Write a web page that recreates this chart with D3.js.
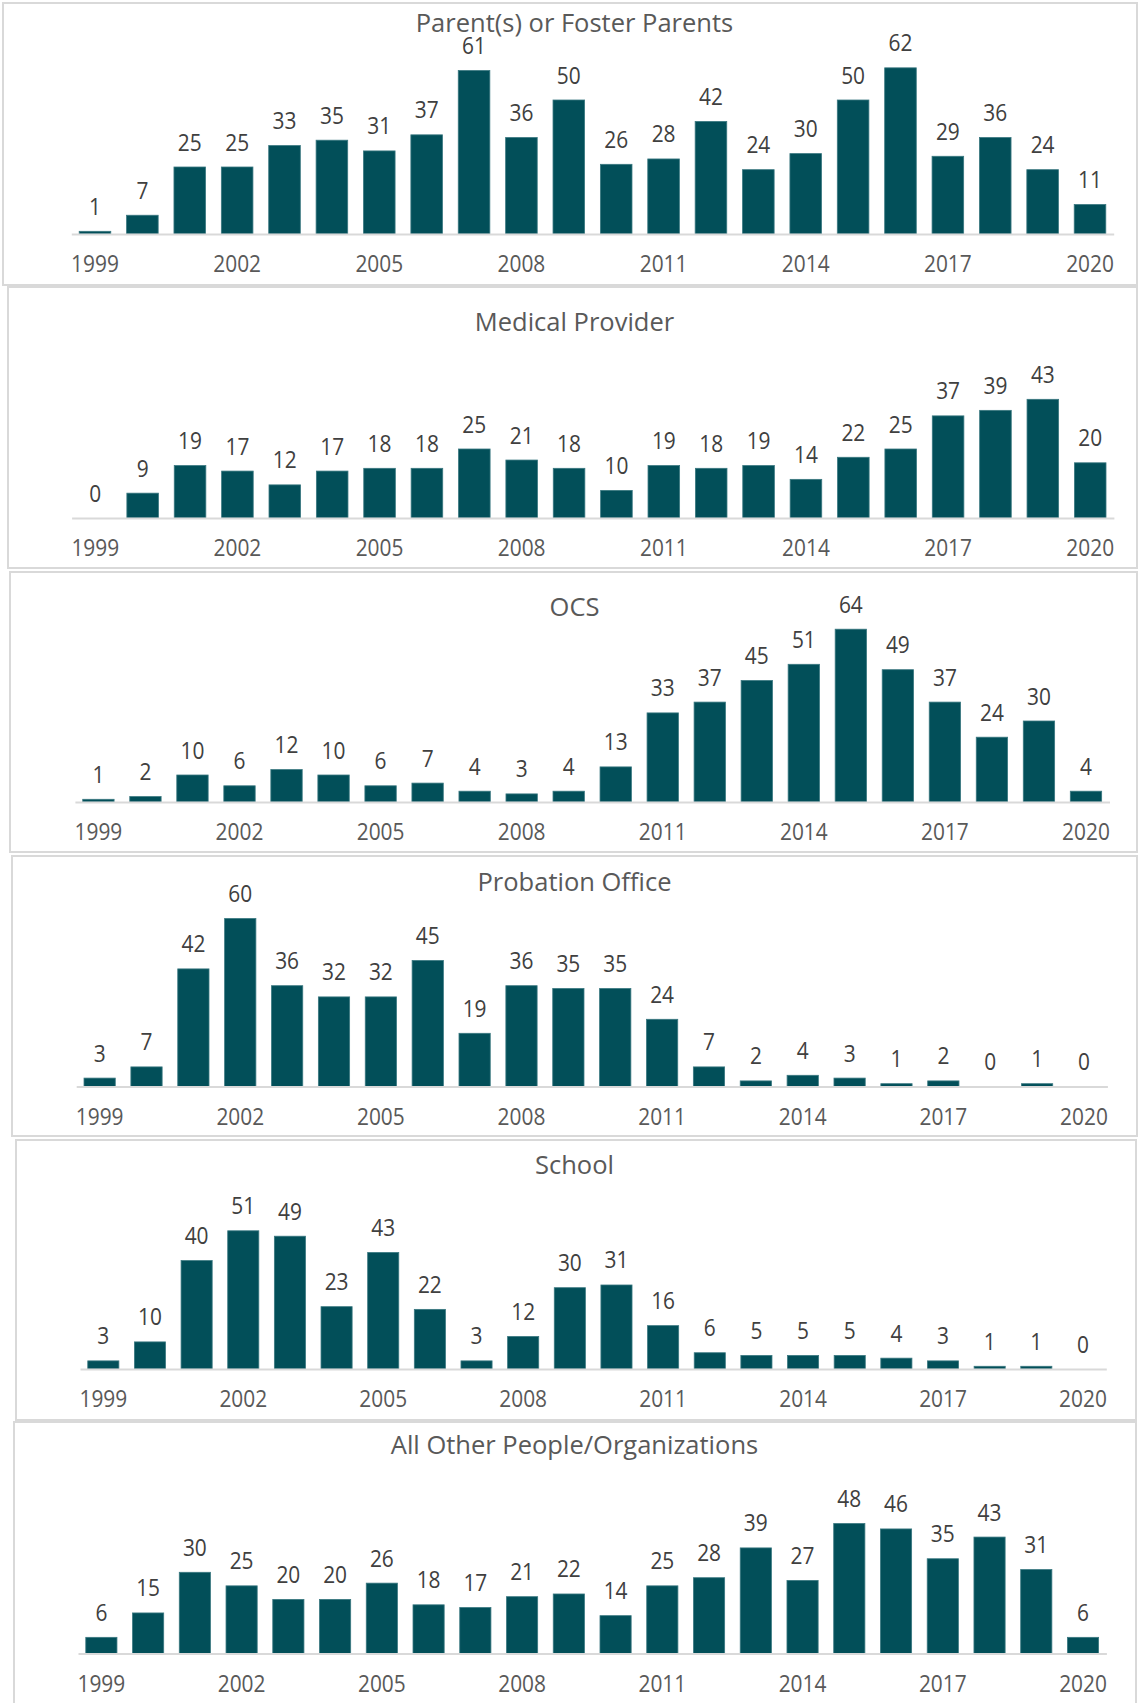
<!DOCTYPE html>
<html lang="en">
<head>
    <meta charset="UTF-8">
    <script src="https://d3js.org/d3.v7.min.js"></script>
    <title>Referral sources by year</title>
    <style>
        body {
            margin: 0;
            background: #fff;
            font-family: "Open Sans", sans-serif;
        }
        .title { fill: #595959; font-size: 25.5px; }
        .val { fill: #404040; font-size: 24px; }
        .tick text { fill: #595959; font-size: 24px; font-family: "Open Sans", sans-serif; }
        .domain { stroke: #d9d9d9; stroke-width: 2px; }
    </style>
</head>
<body>
<div id="chart"></div>
<script>
    const years = d3.range(1999, 2021);
    const tickYears = [1999, 2002, 2005, 2008, 2011, 2014, 2017, 2020];

    const titles = [
        "Parent(s) or Foster Parents",
        "Medical Provider",
        "OCS",
        "Probation Office",
        "School",
        "All Other People/Organizations"
    ];

    const parents   = [1, 7, 25, 25, 33, 35, 31, 37, 61, 36, 50, 26, 28, 42, 24, 30, 50, 62, 29, 36, 24, 11];
    const medical   = [0, 9, 19, 17, 12, 17, 18, 18, 25, 21, 18, 10, 19, 18, 19, 14, 22, 25, 37, 39, 43, 20];
    const ocs       = [1, 2, 10, 6, 12, 10, 6, 7, 4, 3, 4, 13, 33, 37, 45, 51, 64, 49, 37, 24, 30, 4];
    const probation = [3, 7, 42, 60, 36, 32, 32, 45, 19, 36, 35, 35, 24, 7, 2, 4, 3, 1, 2, 0, 1, 0];
    const school    = [3, 10, 40, 51, 49, 23, 43, 22, 3, 12, 30, 31, 16, 6, 5, 5, 5, 4, 3, 1, 1, 0];
    const others    = [6, 15, 30, 25, 20, 20, 26, 18, 17, 21, 22, 14, 25, 28, 39, 27, 48, 46, 35, 43, 31, 6];

    const series = [parents, medical, ocs, probation, school, others];

    // panel boxes and plot areas (the source is a stack of slightly offset screenshots)
    const layout = [
        { x0: 3,  y0: 3,    x1: 1137, y1: 285,  left: 71.3, right: 1113.7, axisY: 234,    top: 46.4,   titleY: 32 },
        { x0: 8,  y0: 287,  x1: 1137, y1: 568,  left: 71.6, right: 1113.9, axisY: 518,    top: 324.8,  titleY: 331 },
        { x0: 10, y0: 572,  x1: 1137, y1: 852,  left: 74.9, right: 1109.5, axisY: 802,    top: 613,    titleY: 615.5 },
        { x0: 12, y0: 856,  x1: 1137, y1: 1136, left: 76.2, right: 1107.4, axisY: 1086.5, top: 890.5,  titleY: 890.5 },
        { x0: 16, y0: 1140, x1: 1136, y1: 1420, left: 80,   right: 1106.3, axisY: 1369,   top: 1179.3, titleY: 1174 },
        { x0: 14, y0: 1422, x1: 1136, y1: 1710, left: 78,   right: 1106.4, axisY: 1653.6, top: 1463.9, titleY: 1453.5 }
    ];

    const W = 1138, H = 1703;
    const titleX = 574.5;
    const sx = 0.87;   // narrow the digits a bit
    const barColor = "#024f59";

    const svg = d3.select("#chart").append("svg")
        .attr("width", W)
        .attr("height", H);

    series.forEach((vals, i) => {
        const L = layout[i];
        const g = svg.append("g");

        g.append("rect")
            .attr("x", L.x0).attr("y", L.y0)
            .attr("width", L.x1 - L.x0).attr("height", L.y1 - L.y0)
            .attr("fill", "#fff")
            .attr("stroke", "#d9d9d9")
            .attr("stroke-width", 2);

        const x = d3.scaleBand()
            .domain(years)
            .range([L.left, L.right])
            .paddingInner(1 / 3)
            .paddingOuter(1 / 6);

        const y = d3.scaleLinear()
            .domain([0, 70])
            .range([L.axisY, L.top]);

        g.append("text")
            .attr("class", "title")
            .attr("text-anchor", "middle")
            .attr("x", titleX)
            .attr("y", L.titleY)
            .text(titles[i]);

        g.selectAll("rect.bar")
            .data(vals)
            .enter().append("rect")
            .attr("class", "bar")
            .attr("x", (d, j) => x(years[j]))
            .attr("width", x.bandwidth())
            .attr("y", d => y(d))
            .attr("height", d => L.axisY - y(d))
            .attr("fill", barColor)
            .attr("stroke", d => d > 0 ? "#3a7880" : "none")
            .attr("stroke-width", 0.8);

        const axis = d3.axisBottom(x)
            .tickValues(tickYears)
            .tickSize(0)
            .tickSizeOuter(0)
            .tickPadding(21);

        const ax = g.append("g")
            .attr("transform", `translate(0,${L.axisY})`)
            .call(axis);
        ax.selectAll(".tick text").attr("transform", `scale(${sx},1)`);

        g.selectAll("text.val")
            .data(vals)
            .enter().append("text")
            .attr("class", "val")
            .attr("text-anchor", "middle")
            .attr("transform", (d, j) =>
                `translate(${x(years[j]) + x.bandwidth() / 2},${y(d) - 16.5}) scale(${sx},1)`)
            .text(d => d);
    });
</script>
</body>
</html>
